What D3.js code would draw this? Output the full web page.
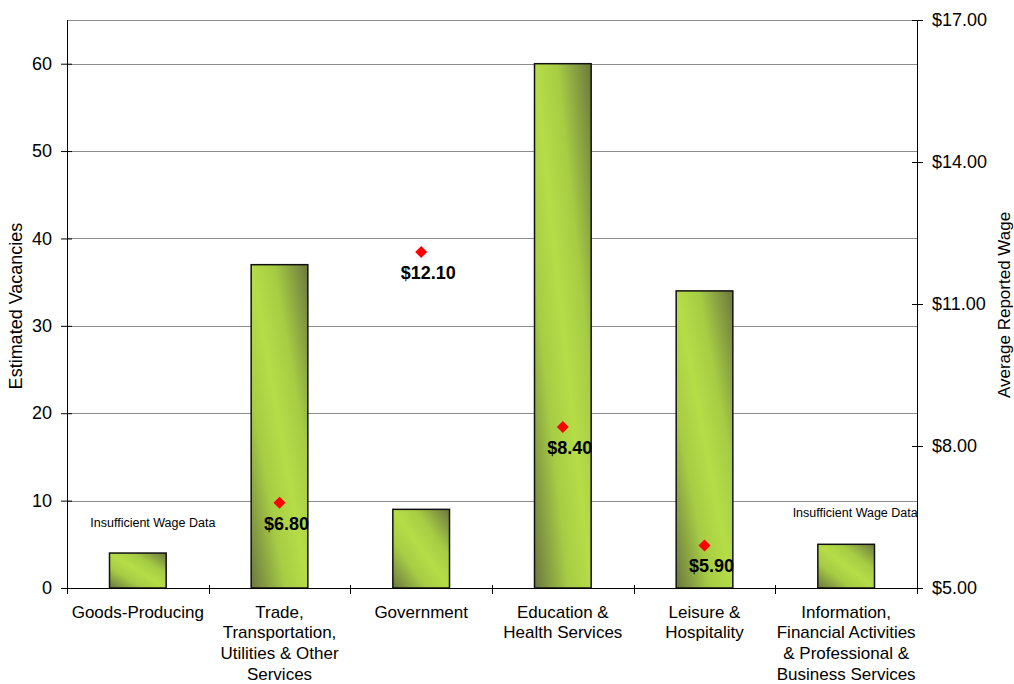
<!DOCTYPE html>
<html>
<head>
<meta charset="utf-8">
<script src="https://cdn.jsdelivr.net/npm/d3@7"></script>
<style>
  html, body { margin: 0; padding: 0; background: #fff; }
  svg { display: block; font-family: Arial, "Liberation Sans", sans-serif; }
</style>
</head>
<body>
<svg id="chart" width="1014" height="684"></svg>
<script>
// Vacancies and average reported wage by industry group
const categories = [
  ["Goods-Producing"],
  ["Trade,", "Transportation,", "Utilities & Other", "Services"],
  ["Government"],
  ["Education &", "Health Services"],
  ["Leisure &", "Hospitality"],
  ["Information,", "Financial Activities", "& Professional &", "Business Services"]
];
const vacancies = [4, 37, 9, 60, 34, 5];
const wages = [null, 6.80, 12.10, 8.40, 5.90, null];
const wageNotes = ["Insufficient Wage Data", null, null, null, null, "Insufficient Wage Data"];
const leftTicks = [0, 10, 20, 30, 40, 50, 60];
const rightTicks = [5, 8, 11, 14, 17];

const svg = d3.select("#chart");
const m = { left: 67, right: 917, top: 20, bottom: 588 };

const x = d3.scaleBand().domain(d3.range(categories.length)).range([m.left, m.right]).paddingInner(0).paddingOuter(0);
const yL = d3.scaleLinear().domain([0, 65]).range([m.bottom, m.top]);
const yR = d3.scaleLinear().domain([5, 17]).range([m.bottom, m.top]);
const cx = i => x(i) + x.bandwidth() / 2;

// Diagonal shading for bars
const defs = svg.append("defs");
const grad = defs.append("linearGradient").attr("id", "barShade")
  .attr("x1", 1).attr("y1", 0).attr("x2", 0).attr("y2", 1);
grad.append("stop").attr("offset", 0).attr("stop-color", "#6c773f");
grad.append("stop").attr("offset", 0.3).attr("stop-color", "#a6cc44");
grad.append("stop").attr("offset", 0.5).attr("stop-color", "#b5dd47");
grad.append("stop").attr("offset", 0.7).attr("stop-color", "#a6cc44");
grad.append("stop").attr("offset", 1).attr("stop-color", "#6c773f");

// Gridlines
svg.append("g").selectAll("line").data(leftTicks.filter(d => d > 0).concat([65])).join("line")
  .attr("x1", m.left).attr("x2", m.right)
  .attr("y1", d => Math.round(yL(d)) + 0.5).attr("y2", d => Math.round(yL(d)) + 0.5)
  .attr("stroke", "#8c8c8c").attr("stroke-width", 1);

// Bars
const bw = x.bandwidth() * 0.4;
svg.append("g").selectAll("rect").data(vacancies).join("rect")
  .attr("x", (d, i) => x(i) + (x.bandwidth() - bw) / 2)
  .attr("y", d => yL(d))
  .attr("width", bw)
  .attr("height", d => m.bottom - yL(d))
  .attr("fill", "url(#barShade)")
  .attr("stroke", "#111").attr("stroke-width", 1.5);

// Left axis
const axL = svg.append("g").attr("transform", `translate(${m.left},0)`)
  .call(d3.axisLeft(yL).tickValues(leftTicks).tickSize(6).tickSizeOuter(0));
axL.select(".domain").attr("stroke", "#000").attr("d", `M0.5,${m.top}V${m.bottom}`);
axL.selectAll(".tick line").attr("x2", -6).attr("x1", 5).attr("stroke", "#000");
axL.selectAll(".tick text").attr("font-size", 18).attr("fill", "#000").attr("x", -15);

// Right axis
const axR = svg.append("g").attr("transform", `translate(${m.right},0)`)
  .call(d3.axisRight(yR).tickValues(rightTicks).tickFormat(d => "$" + d3.format(".2f")(d)).tickSize(6).tickSizeOuter(0));
axR.select(".domain").attr("stroke", "#000").attr("d", `M0.5,${m.top}V${m.bottom}`);
axR.selectAll(".tick line").attr("x1", -5).attr("x2", 6).attr("stroke", "#000");
axR.selectAll(".tick text").attr("font-size", 18).attr("fill", "#000").attr("x", 15);

// Bottom axis with ticks at category boundaries
const bottom = svg.append("g");
bottom.append("line").attr("x1", m.left).attr("x2", m.right)
  .attr("y1", m.bottom + 0.5).attr("y2", m.bottom + 0.5).attr("stroke", "#000").attr("stroke-width", 1.2);
const bounds = d3.range(categories.length + 1).map(i => i < categories.length ? x(i) : m.right);
bottom.selectAll("line.tk").data(bounds).join("line").attr("class", "tk")
  .attr("x1", d => Math.round(d) + 0.5).attr("x2", d => Math.round(d) + 0.5)
  .attr("y1", m.bottom - 3).attr("y2", m.bottom + 6).attr("stroke", "#000");

// Category labels
const labels = bottom.selectAll("text.cat").data(categories).join("text").attr("class", "cat")
  .attr("text-anchor", "middle").attr("font-size", 17).attr("fill", "#000");
labels.each(function (lines, i) {
  const t = d3.select(this);
  lines.forEach((s, k) => {
    t.append("tspan").attr("x", cx(i)).attr("y", 617.5 + k * 20.8).text(s);
  });
});

// Wage markers and labels
const wageData = wages.map((w, i) => ({ w, i })).filter(d => d.w != null);
const pts = svg.append("g");
pts.selectAll("path").data(wageData).join("path")
  .attr("d", d3.symbol().type(d3.symbolSquare).size(72))
  .attr("transform", d => `translate(${cx(d.i)},${yR(d.w)}) rotate(45)`)
  .attr("fill", "#ff0000");
pts.selectAll("text").data(wageData).join("text")
  .attr("x", d => cx(d.i) + 7)
  .attr("y", d => yR(d.w) + 27)
  .attr("text-anchor", "middle").attr("font-size", 18).attr("font-weight", "bold").attr("fill", "#000")
  .text(d => "$" + d3.format(".2f")(d.w));

// Notes for missing wage data
const notes = wageNotes.map((n, i) => ({ n, i })).filter(d => d.n);
svg.append("g").selectAll("text").data(notes).join("text")
  .attr("x", d => cx(d.i) + (d.i === 0 ? 15 : 9))
  .attr("y", d => d.i === 0 ? 527 : 517)
  .attr("text-anchor", "middle").attr("font-size", 12.5).attr("fill", "#000")
  .text(d => d.n);

// Axis titles
svg.append("text").attr("transform", `translate(22,306) rotate(-90)`)
  .attr("text-anchor", "middle").attr("font-size", 18).attr("fill", "#000").text("Estimated Vacancies");
svg.append("text").attr("transform", `translate(1010,305) rotate(-90)`)
  .attr("text-anchor", "middle").attr("font-size", 17).attr("fill", "#000").text("Average Reported Wage");
</script>
</body>
</html>
